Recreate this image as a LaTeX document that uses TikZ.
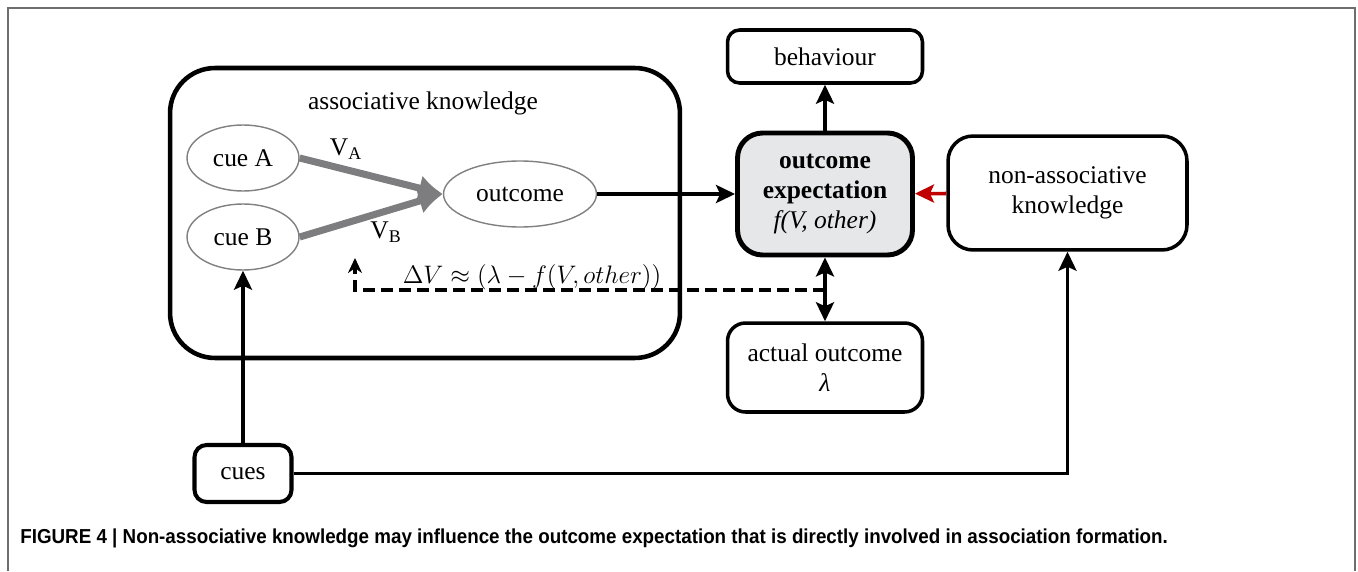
\documentclass[tikz,border=0pt]{standalone}
\usepackage{fontspec}
\setmainfont{Liberation Serif}
\newfontfamily\capfont[FakeStretch=0.93]{Liberation Sans}
\usetikzlibrary{arrows.meta,positioning,shapes.geometric}
\definecolor{cuegray}{RGB}{128,128,128}
\definecolor{linkgray}{RGB}{125,125,128}
\definecolor{expfill}{RGB}{230,231,232}
\definecolor{nakred}{RGB}{192,0,0}
\definecolor{framegray}{RGB}{110,110,110}
\newcommand{\boxfont}{\fontsize{14.5pt}{17pt}\selectfont}
\tikzset{
  statebox/.style={draw,line width=2pt,rounded corners=0.24cm,align=center,
    font=\boxfont,inner sep=0pt},
  cueoval/.style={ellipse,draw=cuegray,line width=0.8pt,minimum width=2.24cm,
    minimum height=1.32cm,inner sep=0pt,font=\boxfont},
  linkarrow/.style={-{Latex[length=4.8mm,width=5.2mm]},line width=4pt,draw=linkgray},
  mainarrow/.style={-{Stealth[length=3.8mm,width=3.6mm,inset=0.8mm]},line width=2pt},
  botharrow/.style={{Stealth[length=3.8mm,width=3.6mm,inset=0.8mm]}-{Stealth[length=3.8mm,width=3.6mm,inset=0.8mm]},line width=2pt},
  feedbackarrow/.style={-{Stealth[length=3mm,width=2.8mm]},line width=1.8pt,
    dash pattern=on 0.24cm off 0.12cm}
}

\begin{document}
\begin{tikzpicture}[x=0.02cm,y=-0.02cm]
  \useasboundingbox (0,0) rectangle (1358,571);
  % outer frame, open at the bottom
  \draw[framegray,line width=0.8pt] (8,571) -- (8,8) -- (1355,8) -- (1355,571);
  % associative knowledge
  \node[draw,line width=2.6pt,rounded corners=0.9cm,minimum width=10.2cm,
    minimum height=5.8cm] (assoc) at (425,213) {};
  \node[font=\boxfont] (assoclabel) at (423,103) {associative knowledge};
  \node[cueoval] (cueA) at (243,158) {cue A};
  \node[cueoval] (cueB) at (243,237) {cue B};
  \node[cueoval,minimum width=3.06cm] (outcome) at (520,194) {outcome};
  \node[font=\boxfont] (va) at (346,149) {V\textsubscript{A}};
  \node[font=\boxfont] (vb) at (386,232) {V\textsubscript{B}};
  \foreach \c in {cueA,cueB}
    \draw[linkarrow] (\c.east) -- (outcome.west);
  % expectation and its neighbours
  \node[statebox,line width=2.8pt,fill=expfill,rounded corners=0.5cm,
    minimum width=3.5cm,minimum height=2.44cm] (oexp) at (825,194)
    {\textbf{outcome}\\\textbf{expectation}\\\textit{f(V, other)}};
  \node[statebox,minimum width=3.9cm,minimum height=1.06cm] (behav) at (825,56.5) {behaviour};
  \node[statebox,rounded corners=0.36cm,minimum width=3.9cm,minimum height=1.78cm]
    (actual) at (825,367.5) {actual outcome\\\textit{λ}};
  \node[statebox,rounded corners=0.5cm,minimum width=4.78cm,minimum height=2.28cm]
    (nak) at (1067.5,193) {non-associative\\knowledge};
  \node[statebox,line width=2.3pt,minimum width=1.94cm,minimum height=1.14cm] (cues) at (243,473.5) {cues};
  \draw[mainarrow] (outcome) -- (oexp);
  \draw[mainarrow] (oexp) -- (behav);
  \draw[botharrow] (oexp) -- (actual);
  \draw[mainarrow,draw=nakred,fill=nakred] (nak) -- (oexp);
  \draw[mainarrow] (cues) -- (cueB);
  \draw[mainarrow] (cues) -| (nak);
  % prediction error feedback
  \coordinate (fbstart) at (825,290);
  \coordinate (fbend) at (355,258);
  \draw[feedbackarrow] (fbstart) -| (fbend);
  \node[font=\boxfont,anchor=base] (dv) at (532,283)
    {$\Delta V \approx \bigl(\lambda - f(V, other)\bigr)$};
  % caption
  \node[anchor=base west,inner sep=0pt,font=\capfont\bfseries\fontsize{11.5pt}{13pt}\selectfont]
    (caption) at (20,543)
    {FIGURE 4 | Non-associative knowledge may influence the outcome expectation that is directly involved in association formation.};
\end{tikzpicture}
\end{document}
